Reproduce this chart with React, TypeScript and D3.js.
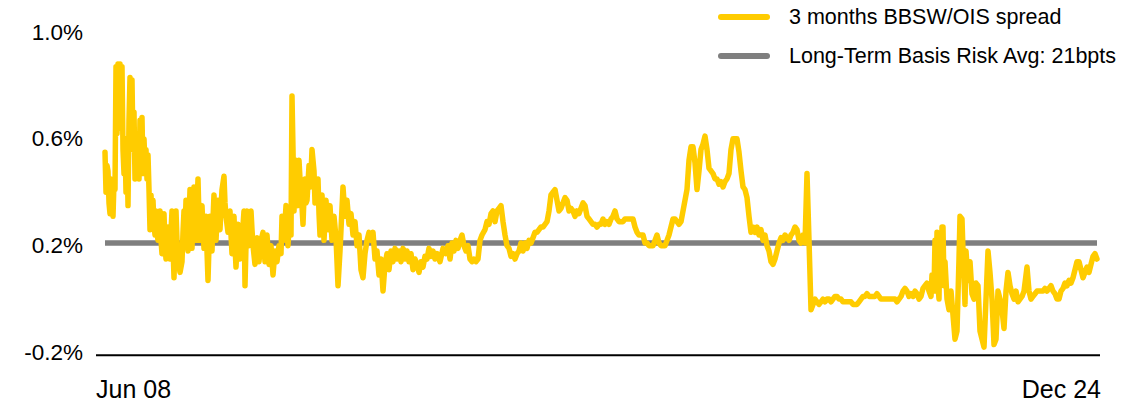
import React from "react";
import * as d3 from "d3";

// months since Jun 2008, spread in %
const spreadSeries: [number, number][] = [
  [0, 0.55], [0.2, 0.40], [0.4, 0.50], [0.6, 0.48], [0.8, 0.36], [1.0, 0.32], [1.2, 0.45], [1.4, 0.37], [1.6, 0.31], [1.8, 0.44], [2.0, 0.41],
  [2.2, 0.87], [2.4, 0.62], [2.6, 0.88], [2.8, 0.70], [3.0, 0.88], [3.2, 0.64], [3.4, 0.87],
  [3.6, 0.56], [3.8, 0.47], [4.0, 0.58], [4.2, 0.40], [4.4, 0.60], [4.6, 0.35], [4.8, 0.67], [5.0, 0.83], [5.2, 0.60], [5.4, 0.82], [5.6, 0.56],
  [5.8, 0.70], [6.0, 0.45], [6.2, 0.62], [6.4, 0.47], [6.6, 0.58], [6.8, 0.45], [7.0, 0.67], [7.2, 0.52], [7.4, 0.68], [7.6, 0.47],
  [7.8, 0.60], [8.0, 0.50], [8.2, 0.56], [8.4, 0.45], [8.6, 0.54], [8.8, 0.41], [9.0, 0.26], [9.2, 0.39], [9.4, 0.30], [9.6, 0.37],
  [9.8, 0.28], [10.0, 0.24], [10.2, 0.33], [10.4, 0.25], [10.6, 0.22], [10.8, 0.30], [11.0, 0.33], [11.2, 0.22], [11.4, 0.17], [11.6, 0.27], [11.8, 0.32],
  [12.0, 0.20], [12.2, 0.15], [12.4, 0.22], [12.6, 0.27], [12.8, 0.19], [13.0, 0.15], [13.2, 0.25], [13.4, 0.33],
  [13.6, 0.20], [13.8, 0.08], [14.0, 0.20], [14.2, 0.33], [14.4, 0.22], [14.6, 0.15], [15.0, 0.10], [15.4, 0.14], [15.6, 0.25], [15.8, 0.33], [16.0, 0.25], [16.2, 0.37], [16.4, 0.24], [16.6, 0.18], [16.8, 0.30], [17.0, 0.41], [17.2, 0.27], [17.4, 0.19],
  [17.6, 0.32], [17.8, 0.42], [18.0, 0.30], [18.2, 0.22], [18.4, 0.35], [18.6, 0.45], [18.8, 0.30], [19.0, 0.22], [19.2, 0.30], [19.4, 0.35], [19.6, 0.26], [19.8, 0.19], [20.0, 0.27], [20.2, 0.31], [20.4, 0.18], [20.6, 0.07], [20.8, 0.20], [21.0, 0.31], [21.2, 0.24], [21.4, 0.18],
  [21.6, 0.30], [21.8, 0.39], [22.0, 0.28], [22.2, 0.22], [22.4, 0.30], [22.6, 0.37], [22.8, 0.30], [23.0, 0.26], [23.2, 0.34], [23.4, 0.41], [23.8, 0.46], [24.0, 0.36], [24.2, 0.31], [24.6, 0.25], [25.0, 0.33], [25.2, 0.24], [25.4, 0.17],
  [25.6, 0.25], [25.8, 0.31], [26.0, 0.20], [26.2, 0.12], [26.4, 0.20], [26.6, 0.28], [26.8, 0.20], [27.0, 0.15], [27.4, 0.22], [27.8, 0.33], [28.0, 0.05], [28.2, 0.20], [28.4, 0.33], [28.6, 0.25], [28.8, 0.20], [29.0, 0.28], [29.2, 0.33],
  [29.4, 0.26], [29.6, 0.20], [30.0, 0.13], [30.4, 0.23], [30.8, 0.14], [31.2, 0.22], [31.6, 0.25], [32.0, 0.14], [32.4, 0.24], [32.8, 0.13],
  [33.2, 0.20], [33.6, 0.09], [34.0, 0.18], [34.4, 0.14], [34.8, 0.20], [35.2, 0.17], [35.4, 0.31], [35.8, 0.22], [36.2, 0.35], [36.6, 0.20],
  [37.0, 0.33], [37.2, 0.24], [37.4, 0.76], [37.6, 0.56], [37.8, 0.33], [38.0, 0.45], [38.2, 0.52], [38.4, 0.40], [38.6, 0.35], [38.8, 0.52], [39.0, 0.45], [39.2, 0.41], [39.6, 0.28],
  [39.8, 0.38], [40.0, 0.45], [40.2, 0.36], [40.4, 0.37], [40.8, 0.50], [41.1, 0.42], [41.4, 0.56], [41.8, 0.48], [42.0, 0.36], [42.2, 0.39], [42.6, 0.45], [42.8, 0.32], [43.0, 0.24], [43.4, 0.39], [43.8, 0.22],
  [44.2, 0.37], [44.6, 0.26], [45.0, 0.35], [45.4, 0.22], [45.8, 0.31], [46.2, 0.23], [46.6, 0.05], [47.0, 0.18], [47.2, 0.26], [47.6, 0.42],
  [48.0, 0.31], [48.4, 0.37], [48.8, 0.28], [49.2, 0.32], [49.6, 0.24], [50.0, 0.29], [50.4, 0.20], [50.8, 0.24], [51.2, 0.11], [51.6, 0.08],
  [52.0, 0.17], [52.4, 0.22], [52.8, 0.25], [53.2, 0.22], [53.6, 0.25], [54.0, 0.15], [54.4, 0.18], [54.8, 0.09], [55.2, 0.15], [55.6, 0.03],
  [56.0, 0.13], [56.4, 0.17], [56.8, 0.11], [57.2, 0.18], [57.6, 0.14], [58.0, 0.19], [58.4, 0.15], [58.8, 0.18], [59.2, 0.14], [59.6, 0.19],
  [60.0, 0.15], [60.4, 0.18], [60.8, 0.14], [61.2, 0.17], [61.6, 0.11], [62.0, 0.15], [62.4, 0.13], [62.8, 0.10], [63.2, 0.14], [63.6, 0.12],
  [64.0, 0.16], [64.4, 0.15], [64.8, 0.19], [65.2, 0.16], [65.6, 0.18], [66.0, 0.15],
  [66.4, 0.17], [67.0, 0.14], [67.6, 0.19], [68.2, 0.17], [68.6, 0.20], [69.0, 0.15], [69.4, 0.21], [69.8, 0.18], [70.2, 0.22], [70.6, 0.19],
  [71.0, 0.22], [71.4, 0.24], [71.8, 0.20], [72.2, 0.18], [72.6, 0.20], [73.0, 0.15], [73.4, 0.14], [73.8, 0.15], [74.2, 0.14], [74.6, 0.15],
  [75.0, 0.22], [75.4, 0.24], [76.0, 0.26], [76.4, 0.29], [76.8, 0.28], [77.2, 0.32], [77.6, 0.33], [78.0, 0.29], [78.4, 0.33], [78.8, 0.34],
  [79.2, 0.35], [79.6, 0.29], [80.0, 0.24], [80.4, 0.20], [80.8, 0.19], [81.2, 0.16], [81.6, 0.17], [82.0, 0.15], [82.4, 0.17], [82.8, 0.18],
  [83.2, 0.21], [83.6, 0.18], [84.0, 0.21], [84.4, 0.19], [84.8, 0.22], [85.2, 0.21], [85.6, 0.23], [86.0, 0.25], [86.4, 0.25], [86.8, 0.26],
  [87.2, 0.27], [87.6, 0.27], [88.0, 0.28], [88.4, 0.29], [88.8, 0.33], [89.2, 0.39], [89.6, 0.40], [90.0, 0.41], [90.4, 0.37], [90.8, 0.33],
  [91.2, 0.34], [91.6, 0.36], [92.0, 0.38], [92.4, 0.37], [92.8, 0.33], [93.2, 0.34], [93.6, 0.33], [94.0, 0.31], [94.4, 0.33], [94.8, 0.32],
  [95.2, 0.34], [95.6, 0.36], [96.0, 0.35], [96.4, 0.31], [96.8, 0.30], [97.2, 0.29], [97.6, 0.28], [98.0, 0.28], [98.4, 0.27], [98.8, 0.28],
  [99.2, 0.28], [99.6, 0.30], [100.0, 0.28], [100.4, 0.29], [100.8, 0.28], [101.2, 0.30], [101.6, 0.31], [102.0, 0.33], [102.4, 0.30], [102.8, 0.29],
  [103.6, 0.29], [104.0, 0.30], [104.4, 0.30], [104.8, 0.30], [105.2, 0.30], [105.6, 0.30], [106.0, 0.27], [106.4, 0.25], [106.8, 0.24], [107.2, 0.24],
  [107.6, 0.24], [108.0, 0.21], [108.4, 0.21], [108.8, 0.20], [109.2, 0.20], [109.6, 0.20], [110.0, 0.22], [110.4, 0.24], [110.8, 0.21], [111.2, 0.20],
  [111.6, 0.20], [112.0, 0.20], [112.4, 0.22], [112.8, 0.24], [113.2, 0.27], [113.6, 0.30], [114.0, 0.30], [114.4, 0.29], [114.8, 0.28], [115.2, 0.29],
  [115.6, 0.33], [116.0, 0.37], [116.4, 0.41], [116.8, 0.52], [117.2, 0.57], [117.6, 0.57], [118.0, 0.51], [118.4, 0.41], [118.8, 0.48], [119.2, 0.56],
  [119.6, 0.58], [120.0, 0.61], [120.4, 0.56], [120.8, 0.49], [121.2, 0.48], [121.6, 0.47], [122.0, 0.45], [122.4, 0.45], [122.8, 0.43], [123.2, 0.44],
  [123.6, 0.42], [124.0, 0.44], [124.4, 0.45], [124.8, 0.47], [125.2, 0.56], [125.6, 0.60], [126.0, 0.60], [126.4, 0.60], [126.8, 0.55], [127.2, 0.48],
  [127.6, 0.42], [128.0, 0.41], [128.4, 0.38], [128.8, 0.31], [129.2, 0.25], [129.6, 0.27], [130.0, 0.25], [130.4, 0.27], [130.8, 0.24], [131.2, 0.26],
  [131.6, 0.22], [132.0, 0.24], [132.4, 0.20], [132.8, 0.18],
  [133.2, 0.14], [133.6, 0.13], [134.0, 0.15], [134.4, 0.18], [134.8, 0.21], [135.2, 0.23], [135.6, 0.22], [136.0, 0.24], [136.4, 0.23], [136.8, 0.22],
  [137.2, 0.24], [137.6, 0.25], [138.0, 0.27], [138.4, 0.26], [138.8, 0.22], [139.2, 0.21], [139.6, 0.24], [140.0, 0.21], [140.4, 0.47], [140.8, 0.22],
  [141.2, -0.04], [141.6, -0.02], [142.0, 0.00], [142.4, -0.01], [142.8, -0.02], [143.2, -0.01], [143.6, 0.00], [144.0, -0.01], [144.4, 0.00], [144.8, 0.00],
  [145.2, -0.01], [145.6, 0.00], [146.0, 0.01], [146.4, 0.01], [146.8, 0.00], [147.2, 0.00], [147.6, -0.01], [148.0, -0.01], [148.4, -0.01], [148.8, -0.01],
  [149.2, -0.01], [149.6, -0.02], [150.0, -0.02], [150.4, -0.02], [150.8, -0.01], [151.2, 0.00], [151.6, 0.01], [152.0, 0.01], [152.4, 0.02], [152.8, 0.01],
  [153.2, 0.01], [153.6, 0.01], [154.0, 0.01], [154.4, 0.02], [154.8, 0.01], [155.2, 0.00], [155.6, 0.00], [156.0, 0.00], [156.4, 0.00], [156.8, 0.00],
  [157.2, 0.00], [157.6, 0.00], [158.0, 0.00], [158.4, -0.01], [158.8, 0.00], [159.2, 0.01], [159.6, 0.03], [160.0, 0.04], [160.4, 0.03], [160.8, 0.01],
  [161.2, 0.02], [161.6, 0.01], [162.0, 0.03], [162.4, 0.02], [162.8, 0.00], [163.2, 0.01], [163.6, 0.04], [164.0, 0.05], [164.4, 0.06], [164.8, 0.03],
  [165.2, 0.01], [165.4, 0.09], [165.8, 0.03],
  [166.0, 0.22], [166.2, 0.03], [166.4, 0.25], [166.6, 0.05], [166.8, 0.00], [167.0, 0.24], [167.2, 0.10], [167.4, 0.27], [167.6, 0.27], [167.8, 0.05], [168.0, 0.14], [168.4, 0.00], [168.8, -0.04],
  [169.2, 0.03], [169.6, -0.06], [170.0, -0.15], [170.4, -0.12], [170.8, 0.15], [171.0, 0.31], [171.4, 0.30], [171.6, 0.18], [172.0, -0.02], [172.2, 0.18],
  [172.6, 0.07], [173.0, 0.14], [173.4, 0.02], [173.8, 0.00], [174.2, 0.06], [174.6, 0.05], [175.0, -0.12], [175.4, -0.15], [175.8, -0.18], [176.2, 0.00],
  [176.6, 0.18], [177.0, 0.10], [177.4, 0.00], [177.8, -0.17], [178.2, -0.15], [178.6, 0.03], [179.0, 0.00], [179.4, -0.04], [179.8, -0.11], [180.2, 0.03],
  [180.6, 0.10], [181.0, 0.05], [181.4, 0.02], [181.8, 0.00], [182.2, 0.03], [182.6, -0.01], [183.0, 0.00], [183.4, 0.01], [183.8, 0.03], [184.2, 0.09],
  [184.4, 0.12], [184.8, 0.03], [185.2, 0.00], [185.6, 0.01], [186.0, 0.02], [186.4, 0.03], [186.8, 0.03], [187.2, 0.03], [187.6, 0.03], [188.0, 0.04],
  [188.4, 0.03], [188.8, 0.04], [189.2, 0.05], [189.6, 0.03], [190.0, 0.02], [190.4, 0.00], [190.8, 0.00], [191.2, 0.03], [191.6, 0.04], [192.0, 0.06],
  [192.4, 0.05], [192.8, 0.07], [193.2, 0.06], [193.6, 0.08], [194.0, 0.11], [194.4, 0.14], [194.8, 0.14], [195.2, 0.11], [195.6, 0.08], [196.0, 0.10],
  [196.4, 0.12], [196.8, 0.10], [197.2, 0.13], [197.6, 0.16], [198.0, 0.17], [198.4, 0.15],
];

const longTermAvg = 0.21; // 21 bpts
const yTicks = [1.0, 0.6, 0.2, -0.2];
const xLabels = ["Jun 08", "Dec 24"];
const legendLabels = ["3 months BBSW/OIS spread", "Long-Term Basis Risk Avg: 21bpts"];

const W = 1145;
const H = 403;
const FONT = "'Liberation Sans', Arial, sans-serif";
const YELLOW = "#FFCC00";
const GREY = "#7F7F7F";

export default function App() {
  const tMax = d3.max(spreadSeries, (d) => d[0]) as number;
  const x = d3.scaleLinear().domain([0, tMax]).range([105, 1097]);
  const y = d3.scaleLinear().domain([-0.21, 1.0]).range([355.2, 32]);

  const line = d3
    .line<[number, number]>()
    .x((d) => x(d[0]))
    .y((d) => y(d[1]));

  const axisY = y(-0.21);

  return (
    <svg
      width={W}
      height={H}
      style={{ position: "absolute", left: 0, top: 0, background: "#fff" }}
      fontFamily={FONT}
    >
      {/* y tick labels */}
      {yTicks.map((t) => (
        <text
          key={t}
          x={83}
          y={y(t)}
          textAnchor="end"
          dominantBaseline="central"
          fontSize={22.5}
          fill="#000"
        >
          {`${t.toFixed(1)}%`}
        </text>
      ))}

      {/* baseline axis */}
      <line x1={96} x2={1100} y1={axisY} y2={axisY} stroke="#000" strokeWidth={2} />

      {/* long-term average */}
      <line
        x1={x(0)}
        x2={x(tMax)}
        y1={y(longTermAvg)}
        y2={y(longTermAvg)}
        stroke={GREY}
        strokeWidth={5.5}
      />

      {/* spread line */}
      <path
        d={line(spreadSeries) || ""}
        fill="none"
        stroke={YELLOW}
        strokeWidth={5.5}
        strokeLinejoin="round"
        strokeLinecap="round"
      />

      {/* x labels */}
      <text x={96} y={398} fontSize={25} textAnchor="start" fill="#000">
        {xLabels[0]}
      </text>
      <text x={1101} y={398} fontSize={25} textAnchor="end" fill="#000">
        {xLabels[1]}
      </text>

      {/* legend */}
      <line x1={721} x2={767} y1={17} y2={17} stroke={YELLOW} strokeWidth={6} strokeLinecap="round" />
      <text x={789} y={17} dominantBaseline="central" fontSize={21.5} fill="#000">
        {legendLabels[0]}
      </text>
      <line x1={721} x2={767} y1={56} y2={56} stroke={GREY} strokeWidth={6} strokeLinecap="round" />
      <text x={789} y={56} dominantBaseline="central" fontSize={21.5} fill="#000">
        {legendLabels[1]}
      </text>
    </svg>
  );
}
